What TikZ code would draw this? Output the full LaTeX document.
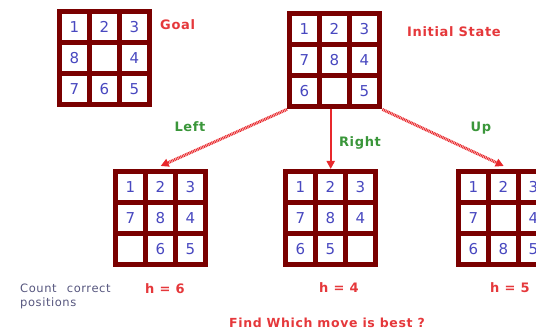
\documentclass[tikz,border=0pt]{standalone}
\usepackage{fontspec}
\setmainfont{DejaVu Sans}
\newfontfamily\labelfont[LetterSpace=5]{DejaVu Sans}
\usetikzlibrary{
	positioning,
	arrows.meta
}
\definecolor{boardcolor}{HTML}{7A0000}
\definecolor{tilecolor}{HTML}{4848C0}
\definecolor{notecolor}{HTML}{E5383B}
\definecolor{movecolor}{HTML}{3A963A}
\definecolor{textcolor}{HTML}{56567E}
\definecolor{arrowcolor}{HTML}{E8282C}
\tikzset{
	boardnode/.style={
		fill=boardcolor,
		draw=none,
		minimum width=95pt,
		minimum height=98pt,
		inner sep=0pt,
		anchor=north west
	},
	tilenode/.style={
		fill=white,
		minimum width=25pt,
		minimum height=26pt,
		inner sep=0pt,
		text=tilecolor,
		font=\fontsize{15}{15}\selectfont
	},
	notenode/.style={
		text=notecolor,
		inner sep=0pt,
		font=\labelfont\fontsize{13}{13}\selectfont\bfseries
	},
	movenode/.style={
		notenode,
		text=movecolor
	},
	textnode/.style={
		text=textcolor,
		inner sep=0pt,
		align=left,
		font=\labelfont\fontsize{11.5}{14}\selectfont
	},
	movearrow/.style={
		-{Triangle[length=8pt,width=8pt]},
		color=arrowcolor,
		line width=2pt
	},
	hatched/.style={
		line width=3pt,
		dash pattern=on 1pt off 0.7pt
	}
}
% board: name, x, y, tiles (row by row)
\newcommand{\puzzle}[4]{%
	\node[boardnode] (#1) at (#2,#3) {};
	\foreach \t [count=\k from 0] in {#4} {
		\pgfmathtruncatemacro{\col}{mod(\k,3)}
		\pgfmathtruncatemacro{\row}{div(\k,3)}
		\node[tilenode] (#1-\k) at ([xshift={17.5pt+\col*30pt}, yshift={-18pt-\row*31pt}]#1.north west) {\t};
	}
}

\begin{document}
\begin{tikzpicture}[x=1pt, y=-1pt]
	\clip (0,0) rectangle (536,331);
	
	% Boards
	\puzzle{goal}{57}{9}{1,2,3,8,{},4,7,6,5}
	\puzzle{init}{287}{11}{1,2,3,7,8,4,6,{},5}
	\puzzle{left}{113}{169}{1,2,3,7,8,4,{},6,5}
	\puzzle{mid}{283}{169}{1,2,3,7,8,4,6,5,{}}
	\puzzle{right}{456}{169}{1,2,3,7,{},4,6,8,5}
	
	% Labels
	\node[notenode, anchor=west] (goallabel) at (160,25) {Goal};
	\node[notenode, anchor=west] (initlabel) at (407,32) {Initial State};
	
	\node[movenode] (leftlabel) at (190,127) {Left};
	\node[movenode] (rightlabel) at (360,143) {Right};
	\node[movenode] (uplabel) at (481,128) {Up};
	
	\node[textnode, anchor=west] (note) at (20,296)
	{Count\hspace{6pt} correct\\positions};
	\node[notenode] (hleft) at (165,289) {h = 6};
	\node[notenode] (hmid) at (339,288) {h = 4};
	\node[notenode, font=\labelfont\fontsize{12.5}{12.5}\selectfont\bfseries] (question) at (327,323) {Find Which move is best ?};
	\node[notenode] (hright) at (510,288) {h = 5};
	
	% Arrows
	\draw[movearrow, hatched] (init.south west) -- ([yshift=3pt]left.north);
	\draw[movearrow] (mid.north |- init.south) -- (mid.north);
	\draw[movearrow, hatched] (init.south east) -- ([yshift=3pt]right.north);
	
\end{tikzpicture}
\end{document}
